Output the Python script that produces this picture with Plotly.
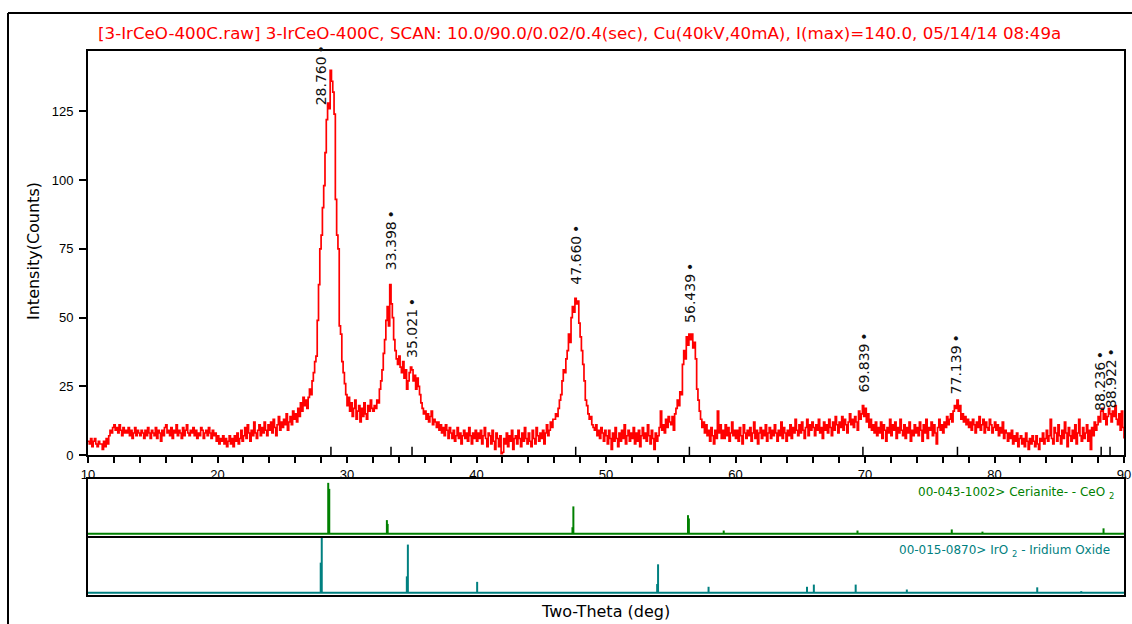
import plotly.graph_objects as go

W, H = 1132, 624

# ---------------- data ----------------
scan_start = 10.0
scan_step = 0.1
intensity = [
    5, 4, 6, 3, 5, 6, 4, 3, 5, 4,
    4, 2, 5, 3, 6, 4, 7, 9, 8, 10,
    11, 9, 10, 8, 11, 9, 7, 10, 8, 9,
    8, 10, 7, 9, 6, 8, 10, 7, 9, 8,
    7, 9, 8, 6, 9, 7, 10, 8, 6, 9,
    8, 7, 10, 6, 9, 8, 5, 9, 7, 10,
    11, 8, 9, 7, 10, 6, 9, 8, 11, 7,
    9, 8, 6, 10, 7, 9, 11, 8, 7, 9,
    8, 10, 7, 9, 6, 8, 7, 10, 9, 6,
    8, 9, 7, 10, 8, 6, 9, 7, 8, 5,
    7, 4, 6, 5, 7, 4, 6, 3, 5, 7,
    4, 6, 3, 7, 5, 8, 4, 6, 9, 5,
    7, 10, 6, 11, 8, 5, 9, 7, 12, 8,
    6, 9, 11, 7, 10, 8, 12, 9, 7, 11,
    9, 12, 8, 13, 10, 7, 11, 14, 9, 12,
    10, 13, 11, 15, 9, 12, 14, 11, 16, 13,
    15, 12, 17, 14, 19, 16, 21, 18, 20, 17,
    21, 24, 22, 27, 30, 34, 36, 49, 62, 75,
    80, 90, 98, 110, 122, 128, 126, 140, 136, 132,
    124, 93, 80, 75, 47, 44, 34, 30, 26, 22,
    18, 21, 16, 19, 14, 17, 20, 13, 16, 18,
    12, 17, 14, 19, 15, 13, 18, 16, 20, 17,
    16, 18, 17, 20, 19, 24, 27, 31, 37, 42,
    49, 54, 47, 62, 55, 50, 42, 38, 35, 33,
    36, 32, 30, 34, 28, 31, 24, 27, 30, 32,
    31, 27, 29, 24, 28, 25, 22, 19, 17, 15,
    16, 13, 15, 12, 14, 16, 11, 13, 12, 10,
    12, 9, 11, 8, 10, 7, 11, 9, 6, 10,
    8, 6, 9, 5, 7, 10, 6, 8, 4, 7,
    9, 6, 8, 5, 10, 7, 4, 8, 6, 9,
    5, 8, 6, 9, 4, 7, 10, 6, 3, 8,
    7, 4, 9, 5, 2, 8, 6, 3, 7, 0.5,
    1, 6, 4, 8, 3, 7, 5, 9, 2, 6,
    7, 4, 9, 6, 3, 8, 5, 10, 6, 4,
    8, 5, 3, 9, 6, 4, 10, 7, 5, 8,
    6, 9, 4, 8, 11, 7, 9, 12, 10, 13,
    13, 15, 14, 17, 20, 22, 27, 31, 30, 35,
    38, 44, 41, 50, 54, 52, 57, 55, 56, 48,
    43, 38, 33, 27, 20, 18, 15, 13, 14, 11,
    10, 9, 11, 7, 9, 6, 10, 8, 5, 9,
    7, 4, 9, 6, 2, 8, 5, 10, 6, 3,
    8, 5, 9, 6, 11, 4, 7, 9, 5, 8,
    6, 10, 4, 8, 5, 9, 3, 7, 10, 6,
    8, 5, 11, 7, 4, 9, 6, 2, 8, 5,
    7, 10, 16, 9, 11, 8, 13, 10, 14, 12,
    11, 14, 9, 15, 17, 20, 18, 23, 22, 33,
    38, 35, 43, 40, 44, 42, 44, 39, 41, 35,
    24, 20, 16, 13, 10, 12, 8, 11, 7, 9,
    5, 10, 7, 4, 9, 6, 16, 8, 11, 6,
    9, 6, 11, 7, 10, 5, 8, 12, 7, 9,
    6, 9, 5, 10, 7, 4, 11, 8, 6, 9,
    7, 10, 5, 8, 12, 6, 9, 4, 8, 10,
    6, 9, 7, 11, 5, 8, 10, 6, 9, 7,
    11, 8, 5, 9, 7, 12, 6, 10, 8, 5,
    9, 7, 11, 6, 10, 8, 13, 9, 7, 11,
    8, 12, 9, 6, 10, 13, 7, 11, 9, 12,
    10, 7, 11, 9, 13, 8, 10, 6, 12, 9,
    11, 8, 13, 10, 7, 12, 9, 14, 11, 8,
    12, 10, 14, 9, 13, 11, 8, 12, 15, 11,
    13, 10, 14, 12, 9, 16, 13, 15, 18, 14,
    17, 12, 15, 10, 13, 9, 11, 8, 12, 7,
    10, 8, 12, 6, 11, 9, 5, 10, 8, 13,
    7, 11, 9, 12, 6, 10, 8, 13, 9, 7,
    11, 6, 10, 8, 12, 5, 9, 7, 11, 8,
    10, 7, 12, 9, 5, 11, 8, 13, 6, 10,
    9, 12, 7, 11, 8, 4, 10, 13, 9, 11,
    8, 12, 10, 14, 11, 13, 15, 12, 16, 18,
    17, 20, 16, 18, 13, 15, 12, 14, 11, 13,
    10, 12, 9, 13, 11, 8, 12, 10, 14, 9,
    11, 13, 8, 12, 10, 9, 13, 11, 8, 10,
    12, 9, 11, 7, 10, 8, 12, 6, 9, 8,
    5, 8, 6, 9, 4, 7, 5, 8, 3, 6,
    7, 4, 6, 3, 8, 5, 2, 6, 4, 7,
    5, 3, 7, 4, 2, 6, 5, 8, 4, 6,
    9, 5, 7, 13, 6, 4, 10, 8, 5, 11,
    7, 4, 9, 6, 12, 8, 3, 10, 7, 5,
    9, 6, 11, 4, 8, 13, 7, 5, 10, 6,
    8, 11, 5, 9, 2, 10, 7, 12, 9, 11,
    14, 12, 16, 17, 13, 15, 11, 14, 17, 15,
    12, 16, 14, 18, 13, 11, 15, 9, 16, 10,
    6,
]
two_theta = [round(scan_start + i * scan_step, 2) for i in range(len(intensity))]

# peak labels
peak_pos = [28.760, 33.398, 35.021, 47.660, 56.439, 69.839, 77.139, 88.236, 88.922]
peak_text = ["28.760", "33.398", "35.021", "47.660", "56.439", "69.839", "77.139", "88.236", "88.922"]
label_x = [27.99, 33.40, 35.02, 47.62, 56.50, 69.90, 77.10, 88.20, 89.02]
label_y = [126.5, 66.5, 34.6, 61.3, 47.4, 21.9, 21.3, 15.2, 16.4]

# reference patterns (relative heights)
ceo2_pos = [28.55, 33.08, 47.48, 56.33, 59.09, 69.42, 76.70, 79.07, 88.42]
ceo2_h = [0.93, 0.25, 0.50, 0.34, 0.06, 0.06, 0.08, 0.04, 0.10]
ceo2_sh_pos = [28.63, 33.14, 47.41, 56.40]
ceo2_sh_h = [0.82, 0.18, 0.12, 0.28]

iro2_pos = [28.05, 34.70, 40.05, 54.02, 57.92, 65.52, 66.05, 69.28, 73.23, 83.30, 86.70]
iro2_h = [1.00, 0.88, 0.20, 0.52, 0.11, 0.11, 0.15, 0.15, 0.06, 0.10, 0.03]
iro2_sh_pos = [27.97, 34.62, 53.95]
iro2_sh_h = [0.55, 0.30, 0.16]

title_text = ("[3-IrCeO-400C.raw] 3-IrCeO-400C, SCAN: 10.0/90.0/0.02/0.4(sec), "
              "Cu(40kV,40mA), I(max)=140.0, 05/14/14 08:49a")

# ---------------- helpers ----------------
def px_x(p):
    return p / W

def px_y(p):
    return 1 - p / H

def sticks(pos, h):
    xs, ys = [], []
    for p, v in zip(pos, h):
        xs += [p, p, None]
        ys += [0, v, None]
    return xs, ys

RED = "#ff0000"
GREEN = "#008000"
TEAL = "#008080"
FONT = "Liberation Sans"
WIDE = "DejaVu Sans"

fig = go.Figure()

fig.add_trace(go.Scatter(x=two_theta, y=intensity, mode="lines", line=dict(color=RED, width=1.7, shape="hv"),
                         xaxis="x", yaxis="y", hoverinfo="skip", showlegend=False))

for pos, h, sp, sh, col, ax in [(ceo2_pos, ceo2_h, ceo2_sh_pos, ceo2_sh_h, GREEN, "2"),
                                (iro2_pos, iro2_h, iro2_sh_pos, iro2_sh_h, TEAL, "3")]:
    xs, ys = sticks(pos, h)
    xs2, ys2 = sticks(sp, sh)
    fig.add_trace(go.Scatter(x=[10, 90, None] + xs + xs2, y=[0, 0, None] + ys + ys2, mode="lines",
                             line=dict(color=col, width=2), xaxis="x" + ax, yaxis="y" + ax,
                             hoverinfo="skip", showlegend=False))

ann = []
for t, lx, ly in zip(peak_text, label_x, label_y):
    ann.append(dict(x=lx, y=ly, xref="x", yref="y", text=t + "\u2009•", showarrow=False, textangle=-90,
                    xanchor="center", yanchor="bottom", font=dict(family=WIDE, size=14, color="#111111")))

ann.append(dict(x=px_x(579), y=px_y(33), xref="paper", yref="paper", text=title_text, showarrow=False,
                xanchor="center", yanchor="middle", font=dict(family=WIDE, size=16.7, color=RED)))
ann.append(dict(x=px_x(605), y=px_y(611), xref="paper", yref="paper", text="Two-Theta (deg)", showarrow=False,
                xanchor="center", yanchor="middle", font=dict(family=WIDE, size=16, color="#000000")))
ann.append(dict(x=px_x(33), y=px_y(251), xref="paper", yref="paper", text="Intensity(Counts)", showarrow=False,
                textangle=-90, xanchor="center", yanchor="middle", font=dict(family=WIDE, size=16, color="#000000")))
ann.append(dict(x=px_x(1116), y=px_y(493), xref="paper", yref="paper",
                text="00-043-1002> Cerianite- - CeO <sub>2</sub>", showarrow=False,
                xanchor="right", yanchor="middle", font=dict(family=WIDE, size=12, color=GREEN)))
ann.append(dict(x=px_x(1112), y=px_y(551), xref="paper", yref="paper",
                text="00-015-0870> IrO <sub>2</sub> - Iridium Oxide", showarrow=False,
                xanchor="right", yanchor="middle", font=dict(family=WIDE, size=12, color=TEAL)))

shapes = []
for p in peak_pos:
    shapes.append(dict(type="line", xref="x", yref="y", x0=p, x1=p, y0=0, y1=3,
                       line=dict(color="black", width=1.5)))
# outer frame
shapes.append(dict(type="line", xref="paper", yref="paper", x0=px_x(8), x1=1.0, y0=px_y(13), y1=px_y(13),
                   line=dict(color="black", width=2)))
shapes.append(dict(type="line", xref="paper", yref="paper", x0=px_x(8), x1=px_x(8), y0=px_y(13), y1=0,
                   line=dict(color="black", width=2)))

xdom = [px_x(88), px_x(1124)]
frame = dict(showline=True, linecolor="black", linewidth=2, mirror=True, showgrid=False, zeroline=False,
             automargin=False)

fig.update_layout(
    width=W, height=H, margin=dict(l=0, r=0, t=0, b=0, pad=0, autoexpand=False),
    paper_bgcolor="white", plot_bgcolor="white", showlegend=False,
    font=dict(family=FONT, size=12, color="black"),
    xaxis=dict(domain=xdom, range=[10, 90], anchor="y", tickvals=list(range(10, 91, 10)),
               ticks="outside", ticklen=6, tickwidth=1.5, tickcolor="black",
               minor=dict(dtick=2, ticks="outside", ticklen=6, tickwidth=1.5, tickcolor="black", showgrid=False),
               tickfont=dict(family=FONT, size=13), **frame),
    yaxis=dict(domain=[px_y(455), px_y(51)], range=[0, 147], anchor="x", tickvals=list(range(0, 126, 25)),
               ticks="outside", ticklen=7, tickwidth=1.5, tickcolor="black", ticklabelstandoff=3,
               tickfont=dict(family=FONT, size=13), **frame),
    xaxis2=dict(domain=xdom, range=[10, 90], anchor="y2", matches="x", showticklabels=False, ticks="", **frame),
    yaxis2=dict(domain=[px_y(536), px_y(479)], range=[-0.04, 1.0], anchor="x2", showticklabels=False,
                ticks="", **frame),
    xaxis3=dict(domain=xdom, range=[10, 90], anchor="y3", matches="x", showticklabels=False, ticks="", **frame),
    yaxis3=dict(domain=[px_y(595), px_y(538)], range=[-0.04, 1.0], anchor="x3", showticklabels=False,
                ticks="", **frame),
    annotations=ann, shapes=shapes,
)

fig.write_html("out.html", config={"displayModeBar": False},
               post_script="document.body.style.margin='0';document.body.style.overflow='hidden';")
